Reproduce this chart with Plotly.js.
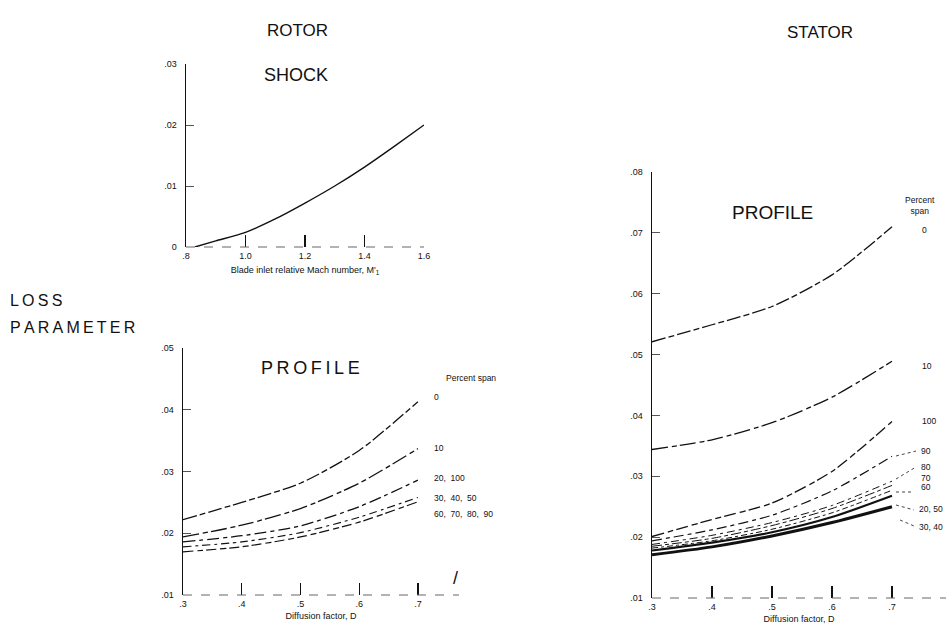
<!DOCTYPE html>
<html>
<head>
<meta charset="utf-8">
<script src="https://cdn.plot.ly/plotly-3.0.1.min.js"></script>
<style>html,body{margin:0;padding:0;background:#fff;}#chart{width:951px;height:633px;}</style>
</head>
<body>
<div id="chart"></div>
<script>
// ---------- DATA ----------
// Rotor shock loss vs blade inlet relative Mach number
const machNumber = [0.83, 0.9, 1.0, 1.1, 1.2, 1.3, 1.4, 1.5, 1.6];
const shockLoss  = [0.0, 0.0010, 0.0024, 0.0046, 0.0072, 0.0100, 0.0131, 0.0165, 0.0200];

// Diffusion factor
const diffusion = [0.3, 0.4, 0.5, 0.6, 0.7];

// Rotor profile loss by percent span
const rotorSpans = ["0", "10", "20, 100", "30, 40, 50", "60, 70, 80, 90"];
const rotorSpan0      = [0.0222, 0.0250, 0.0281, 0.0334, 0.0413];
const rotorSpan10     = [0.0194, 0.0213, 0.0240, 0.0281, 0.0337];
const rotorSpan20_100 = [0.0186, 0.0196, 0.0212, 0.0243, 0.0286];
const rotorSpan30_50  = [0.0178, 0.0186, 0.0201, 0.0226, 0.0258];
const rotorSpan60_90  = [0.0170, 0.0178, 0.0194, 0.0218, 0.0251];

// Stator profile loss by percent span
const statorSpans = ["0", "10", "100", "90", "80", "70", "60", "20, 50", "30, 40"];
const statorSpan0     = [0.0521, 0.0549, 0.0579, 0.0631, 0.0710];
const statorSpan10    = [0.0344, 0.0360, 0.0388, 0.0430, 0.0489];
const statorSpan100   = [0.0201, 0.0229, 0.0256, 0.0308, 0.0390];
const statorSpan90    = [0.0194, 0.0212, 0.0236, 0.0276, 0.0333];
const statorSpan80    = [0.0188, 0.0203, 0.0224, 0.0252, 0.0292];
const statorSpan70    = [0.0185, 0.0198, 0.0219, 0.0247, 0.0285];
const statorSpan60    = [0.0182, 0.0194, 0.0213, 0.0240, 0.0277];
const statorSpan20_50 = [0.0178, 0.0191, 0.0208, 0.0233, 0.0268];
const statorSpan30_40 = [0.0171, 0.0184, 0.0202, 0.0224, 0.0250];

// Tick labels
const shockXTicks = [0.8, 1.0, 1.2, 1.4, 1.6];
const shockXText  = [".8", "1.0", "1.2", "1.4", "1.6"];
const shockYTicks = [0, 0.01, 0.02, 0.03];
const shockYText  = ["0", ".01", ".02", ".03"];
const dTicks = [0.3, 0.4, 0.5, 0.6, 0.7];
const dText  = [".3", ".4", ".5", ".6", ".7"];
const rotorYTicks = [0.01, 0.02, 0.03, 0.04, 0.05];
const rotorYText  = [".01", ".02", ".03", ".04", ".05"];
const statorYTicks = [0.01, 0.02, 0.03, 0.04, 0.05, 0.06, 0.07, 0.08];
const statorYText  = [".01", ".02", ".03", ".04", ".05", ".06", ".07", ".08"];

// ---------- STYLE / LAYOUT ----------
const W = 951, H = 633;
const FONT = "Liberation Sans, Arial, sans-serif";
const INK = "#111";
const px = x => x / W;
const py = y => 1 - y / H;

function line(x, y, xa, ya, width, dash, name) {
  return {x: x, y: y, xaxis: xa, yaxis: ya, type: "scatter", mode: "lines", name: name,
          line: {color: INK, width: width, dash: dash, shape: "spline", smoothing: 0.7},
          hoverinfo: "skip", showlegend: false};
}

const traces = [
  line(machNumber, shockLoss, "x", "y", 1.4, "solid", "shock"),
  line(diffusion, rotorSpan0, "x2", "y2", 1.3, "14px,3px,6px,3px", rotorSpans[0]),
  line(diffusion, rotorSpan10, "x2", "y2", 1.3, "16px,4px,5px,3px", rotorSpans[1]),
  line(diffusion, rotorSpan20_100, "x2", "y2", 1.3, "12px,4px,4px,4px", rotorSpans[2]),
  line(diffusion, rotorSpan30_50, "x2", "y2", 1.1, "8px,4px,3px,4px", rotorSpans[3]),
  line(diffusion, rotorSpan60_90, "x2", "y2", 1.2, "10px,4px,6px,3px", rotorSpans[4]),
  line(diffusion, statorSpan0, "x3", "y3", 1.3, "14px,3px,6px,3px", statorSpans[0]),
  line(diffusion, statorSpan10, "x3", "y3", 1.3, "16px,4px,5px,3px", statorSpans[1]),
  line(diffusion, statorSpan100, "x3", "y3", 1.3, "12px,4px,6px,3px", statorSpans[2]),
  line(diffusion, statorSpan90, "x3", "y3", 1.2, "10px,4px,4px,4px", statorSpans[3]),
  line(diffusion, statorSpan80, "x3", "y3", 1.0, "8px,4px,3px,4px", statorSpans[4]),
  line(diffusion, statorSpan70, "x3", "y3", 1.0, "10px,3px,4px,3px", statorSpans[5]),
  line(diffusion, statorSpan60, "x3", "y3", 1.0, "6px,3px,3px,3px", statorSpans[6]),
  line(diffusion, statorSpan20_50, "x3", "y3", 2.2, "solid", statorSpans[7]),
  line(diffusion, statorSpan30_40, "x3", "y3", 3.0, "solid", statorSpans[8])
];

const tickFont = {family: FONT, size: 9, color: INK};
function yAxis(dom, rng, vals, txt, anchor) {
  return {domain: dom, range: rng, anchor: anchor, tickmode: "array", tickvals: vals, ticktext: txt,
          showline: true, linecolor: INK, linewidth: 1.5, ticks: "inside", ticklen: 8, tickcolor: "#555",
          tickwidth: 1, tickfont: tickFont, showgrid: false, zeroline: false, ticklabelstandoff: 6, fixedrange: true};
}
function xAxis(dom, rng, vals, txt, anchor, title, tsd) {
  return {domain: dom, range: rng, anchor: anchor, tickmode: "array", tickvals: vals, ticktext: txt,
          showline: false, ticks: "inside", ticklen: 12, tickcolor: INK, tickwidth: 1.3,
          tickfont: tickFont, showgrid: false, zeroline: false, ticklabelstandoff: 2,
          title: {text: title, font: {family: FONT, size: 9, color: INK}, standoff: tsd}, fixedrange: true};
}

const layout = {
  width: W, height: H,
  margin: {l: 0, r: 0, t: 0, b: 0},
  paper_bgcolor: "#fff", plot_bgcolor: "rgba(0,0,0,0)",
  showlegend: false,
  xaxis:  xAxis([px(186), px(424)], [0.8, 1.6], shockXTicks, shockXText, "y",
                "Blade inlet relative Mach number, M'<sub>1</sub>", 6),
  yaxis:  yAxis([py(247), py(64)], [0, 0.03], shockYTicks, shockYText, "x"),
  xaxis2: xAxis([px(183), px(459)], [0.3, 0.77], dTicks, dText, "y2", "Diffusion factor, D", 4),
  yaxis2: yAxis([py(595), py(348)], [0.01, 0.05], rotorYTicks, rotorYText, "x2"),
  xaxis3: xAxis([px(652), px(946)], [0.3, 0.79], dTicks, dText, "y3", "Diffusion factor, D", 4),
  yaxis3: yAxis([py(598), py(172)], [0.01, 0.08], statorYTicks, statorYText, "x3"),
  shapes: [
    {type: "line", xref: "x domain", yref: "y domain", x0: 0, x1: 1, y0: 0, y1: 0, line: {color: "#666", width: 1, dash: "dash"}},
    {type: "line", xref: "x2 domain", yref: "y2 domain", x0: 0, x1: 1, y0: 0, y1: 0, line: {color: "#666", width: 1, dash: "dash"}},
    {type: "line", xref: "x3 domain", yref: "y3 domain", x0: 0, x1: 1, y0: 0, y1: 0, line: {color: "#666", width: 1, dash: "dash"}},
    // stator leader lines from curve ends to labels
    {type: "line", xref: "paper", yref: "paper", x0: px(896), y0: py(456), x1: px(916), y1: py(451), line: {color: "#444", width: 1, dash: "dot"}},
    {type: "line", xref: "paper", yref: "paper", x0: px(896), y0: py(479), x1: px(916), y1: py(467), line: {color: "#444", width: 1, dash: "dot"}},
    {type: "line", xref: "paper", yref: "paper", x0: px(896), y0: py(492), x1: px(913), y1: py(492), line: {color: "#444", width: 1, dash: "dot"}},
    {type: "line", xref: "paper", yref: "paper", x0: px(896), y0: py(505), x1: px(914), y1: py(510), line: {color: "#444", width: 1, dash: "dot"}},
    {type: "line", xref: "paper", yref: "paper", x0: px(900), y0: py(520), x1: px(914), y1: py(526), line: {color: "#444", width: 1, dash: "dot"}}
  ],
  annotations: []
};

function ann(text, x, y, size, opts) {
  return Object.assign({text: text, xref: "paper", yref: "paper", x: px(x), y: py(y),
    showarrow: false, xanchor: "center", yanchor: "middle",
    font: {family: FONT, size: size, color: INK}}, opts || {});
}
const T = "\u2009";
layout.annotations.push(
  ann("ROTOR", 297, 30, 17),
  ann("STATOR", 820, 32, 17),
  ann("SHOCK", 296, 75, 18),
  ann(["P","R","O","F","I","L","E"].join(T), 310, 368, 18),
  ann("PROFILE", 772, 212, 19),
  ann(["L","O","S","S"].join(T), 8, 300, 16, {xanchor: "left"}),
  ann(["P","A","R","A","M","E","T","E","R"].join(T), 8, 328, 16, {xanchor: "left"}),
  ann("Percent span", 444, 378, 8.5, {xanchor: "left"}),
  ann("Percent<br>span", 920, 205, 8.5, {xanchor: "center"}),
  ann("/", 455, 578, 18)
);
// rotor curve labels
const rotorLabelPos = [[432, 397], [432, 448], [432, 478], [432, 498], [432, 514]];
rotorSpans.forEach((s, i) => layout.annotations.push(
  ann(s.replace(/, /g, ",  "), rotorLabelPos[i][0], rotorLabelPos[i][1], 8.5, {xanchor: "left"})));
// stator curve labels
const statorLabelPos = [[920, 230], [920, 366], [920, 421], [919, 451], [919, 467], [919, 478], [919, 487], [917, 509], [917, 527]];
statorSpans.forEach((s, i) => layout.annotations.push(
  ann(s, statorLabelPos[i][0], statorLabelPos[i][1], 8.5, {xanchor: "left"})));

Plotly.newPlot("chart", traces, layout, {staticPlot: true, displayModeBar: false});
</script>
</body>
</html>
